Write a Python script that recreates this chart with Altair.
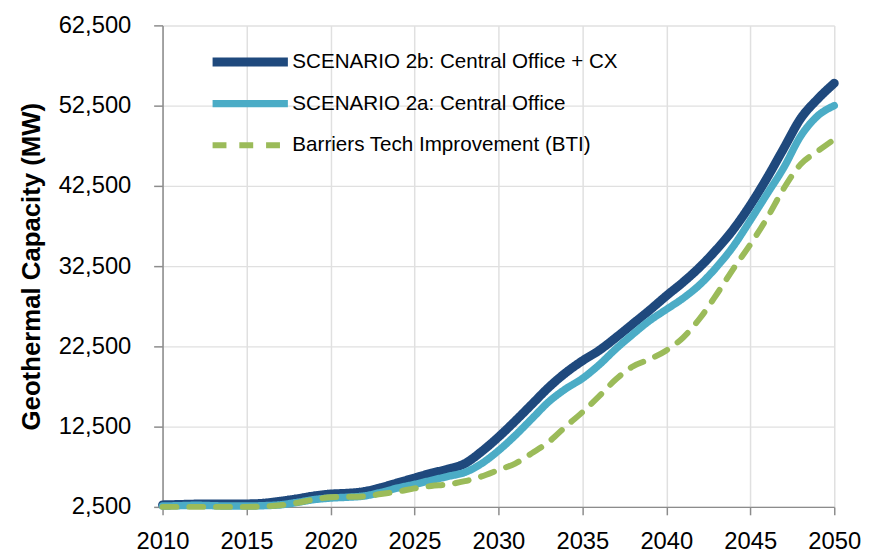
import altair as alt
import pandas as pd

years = list(range(2010, 2051))

scenario_2b = [2750, 2800, 2850, 2850, 2850, 2870, 2950, 3200, 3500, 3850,
               4100, 4200, 4400, 4900, 5500, 6100, 6700, 7200, 7900, 9400,
               11200, 13200, 15300, 17400, 19200, 20700, 22000, 23600, 25300, 27000,
               28800, 30500, 32400, 34600, 37100, 40100, 43500, 47200, 50900, 53300,
               55300]

scenario_2a = [2600, 2650, 2700, 2650, 2600, 2600, 2650, 2750, 3050, 3400,
               3600, 3700, 3850, 4300, 4850, 5300, 5800, 6300, 6800, 7900,
               9500, 11400, 13500, 15600, 17200, 18500, 20200, 22200, 24000, 25700,
               27100, 28500, 30200, 32400, 35000, 38200, 41500, 44800, 48700, 51200,
               52500]

bti = [2500, 2500, 2500, 2500, 2500, 2500, 2550, 2700, 3000, 3400,
       3700, 3750, 3800, 4100, 4400, 4800, 5100, 5300, 5700, 6300,
       7100, 7900, 9200, 10600, 12500, 14300, 16300, 18400, 20000, 20900,
       22000, 23600, 26000, 29000, 32200, 35200, 38500, 42200, 45200, 46800,
       48300]

series_names = ["SCENARIO 2b: Central Office + CX",
                "SCENARIO 2a: Central Office",
                "Barriers Tech Improvement (BTI)"]
series_colors = ["#1F497D", "#4BACC6", "#9BBB59"]
series_widths = [9, 6, 4]
series_dashes = [[1, 0], [1, 0], [14, 13]]

x_ticks = [2010, 2015, 2020, 2025, 2030, 2035, 2040, 2045, 2050]
y_ticks = [2500, 12500, 22500, 32500, 42500, 52500, 62500]

rows = []
for name, vals in zip(series_names, [scenario_2b, scenario_2a, bti]):
    for yr, v in zip(years, vals):
        rows.append({"year": yr, "capacity": v, "series": name})
df = pd.DataFrame(rows)

x_enc = alt.X("year:Q",
              scale=alt.Scale(domain=[2010, 2050], nice=False, zero=False),
              axis=alt.Axis(values=x_ticks, format="d", title=None,
                            labelPadding=15, tickSize=8, labelFlush=False))
y_enc = alt.Y("capacity:Q",
              scale=alt.Scale(domain=[2500, 62500], nice=False, zero=False),
              axis=alt.Axis(values=y_ticks, format=",d",
                            title="Geothermal Capacity (MW)",
                            tickSize=9, labelPadding=23,
                            titleX=-119, titleY=243, titleAngle=270,
                            titleAlign="center", titleBaseline="bottom"))

def make_legend():
    return alt.Legend(title=None, orient="none", legendX=46, legendY=22,
                      symbolType="stroke", symbolSize=5776,
                      clipHeight=30, rowPadding=12, labelOffset=0, padding=0)

color_enc = alt.Color("series:N",
                      scale=alt.Scale(domain=series_names, range=series_colors),
                      legend=make_legend())
dash_enc = alt.StrokeDash("series:N",
                          scale=alt.Scale(domain=series_names, range=series_dashes),
                          legend=make_legend())
width_enc = alt.StrokeWidth("series:N",
                            scale=alt.Scale(domain=series_names, range=series_widths),
                            legend=make_legend())

layers = []
for name in series_names:
    layers.append(
        alt.Chart(df).transform_filter(alt.datum.series == name)
        .mark_line(interpolate="monotone", strokeCap="round", strokeJoin="round")
        .encode(x=x_enc, y=y_enc, color=color_enc, strokeDash=dash_enc,
                strokeWidth=width_enc)
    )

chart = alt.layer(*layers).properties(
    width=678, height=486,
    autosize=alt.AutoSizeParams(type="none"),
    padding={"left": 156, "top": 15, "right": 29, "bottom": 44},
).configure_view(stroke=None).configure_axis(
    labelFont="Liberation Sans", labelFontSize=24, labelColor="#000000",
    titleFont="Liberation Sans", titleFontSize=26, titleFontWeight="bold",
    titleColor="#000000",
    domainColor="#8c8c8c", domainWidth=1.5, tickColor="#8c8c8c", tickWidth=1.5,
    gridColor="#e0e0e0", gridWidth=1.5,
).configure_legend(
    labelFont="Liberation Sans", labelFontSize=20.8, labelColor="#000000",
    labelLimit=0,
)

chart.save("out.html", embed_options={"renderer": "svg", "actions": False})
